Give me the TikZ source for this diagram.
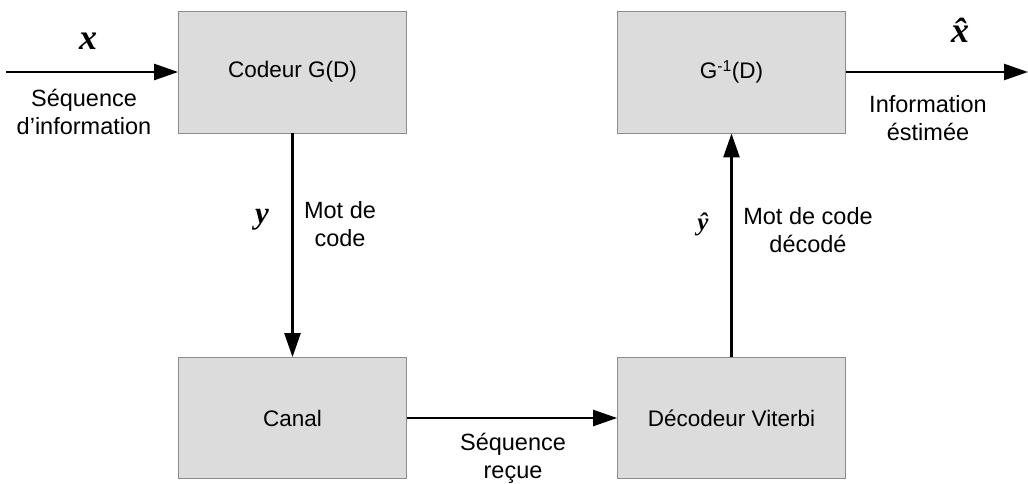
\documentclass[tikz,border=0pt]{standalone}
\usepackage{fontspec}
\setmainfont{Liberation Sans}
\newfontfamily\symfont{Liberation Serif}
\usetikzlibrary{arrows.meta}
\definecolor{boxfill}{RGB}{220,220,220}
\definecolor{boxline}{RGB}{140,140,140}
\tikzset{
  block/.style={rectangle, fill=boxfill, draw=boxline, line width=0.8pt,
    minimum width=228pt, minimum height=122pt, inner sep=0pt,
    font=\fontsize{22.5}{26}\selectfont},
  flow/.style={line width=2.4pt, -{Triangle[length=24pt,width=16pt]}},
  caption/.style={font=\fontsize{23.5}{28}\selectfont, align=center, inner sep=0pt},
  varlab/.style={font=\symfont\bfseries\itshape\fontsize{36}{36}\selectfont, inner sep=0pt},
  varsmall/.style={font=\symfont\bfseries\itshape\fontsize{25}{25}\selectfont, inner sep=0pt}
}
\begin{document}
\begin{tikzpicture}[x=1pt,y=-1pt]
\useasboundingbox (0,0) rectangle (1028,483);

% processing blocks
\node[block] (cod)   at (292.5,72)  {Codeur G(D)};
\node[block] (ginv)  at (731.5,72)  {G\textsuperscript{-1}(D)};
\node[block, minimum height=121pt] (canal) at (292.5,418) {Canal};
\node[block, minimum height=121pt] (dec)   at (731.5,418) {Décodeur Viterbi};

% free ends of the input and output lines
\coordinate (src) at (6,72);
\coordinate (dst) at (1028,72);

% signal flow
\draw[flow] (src) -- (cod.west);
\draw[flow] (cod.south) -- (canal.north);
\draw[flow] (canal.east) -- (dec.west);
\draw[flow] (dec.north) -- (ginv.south);
\draw[flow] (ginv.east) -- (dst);

% signal names
\node[varlab] (lx) at (88,41) {x};
\node[varlab] (lxh) at (960,30) {\^{x}};
\node[varlab, font=\symfont\bfseries\itshape\fontsize{31}{31}\selectfont] (ly) at (262,220) {y};
\node[varsmall] (lyh) at (703,224) {\^{y}};

% descriptions
\node[caption] (cin)  at (84,112)  {Séquence\\d’information};
\node[caption] (cout) at (928,118) {Information\\éstimée};
\node[caption] (cmot) at (340,224) {Mot de\\code};
\node[caption] (cdec) at (808,230) {Mot de code\\décodé};
\node[caption] (cseq) at (513,458) {Séquence\\reçue};
\end{tikzpicture}
\end{document}
